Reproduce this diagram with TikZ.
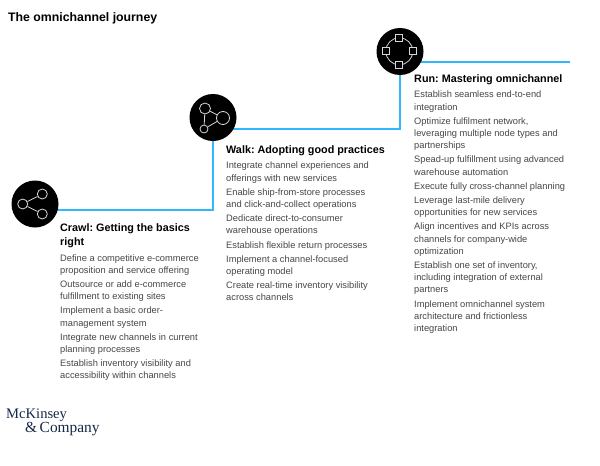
\documentclass[tikz,border=0pt]{standalone}
\usepackage{xcolor}
\usepackage{fontspec}
\setmainfont{Liberation Sans}
\newfontfamily\logofont{Liberation Serif}
\usetikzlibrary{positioning, backgrounds}
\definecolor{journeyblue}{RGB}{48, 184, 255}
\definecolor{bodygray}{RGB}{70, 70, 70}
\definecolor{logonavy}{RGB}{20, 40, 70}
\definecolor{icongray}{RGB}{215, 215, 215}
\frenchspacing
\begin{document}
\begin{tikzpicture}[
    x=1pt, y=-1pt,
    badge/.style={circle, fill=black, minimum size=47pt, inner sep=0pt},
    iconring/.style={circle, draw=icongray, line width=0.8pt, inner sep=0pt, minimum size=#1},
    iconsquare/.style={rectangle, draw=icongray, fill=black, line width=0.8pt, inner sep=0pt, minimum size=7pt},
    iconlink/.style={draw=icongray, line width=0.8pt},
    stepline/.style={draw=journeyblue, line width=1.5pt},
    steptitle/.style={anchor=north west, inner sep=0pt, align=left, font=\fontsize{10.8}{13.6}\selectfont\bfseries, text=black},
    stepbody/.style={anchor=north west, inner sep=0pt, align=left, font=\fontsize{9.3}{12.2}\selectfont, text=bodygray}
]
    \useasboundingbox (0,0) rectangle (600,466);
    \node[anchor=west, inner sep=0pt, font=\fontsize{12.3}{14}\selectfont\bfseries] (heading) at (8,18) {The omnichannel journey};

    % Badges
    \node[badge] (crawl) at (35,204) {};
    \node[badge] (walk) at (213,117.5) {};
    \node[badge] (run) at (400,51.5) {};

    % Blue steps
    \coordinate (crawlcorner) at (213,210);
    \coordinate (walkcorner) at (400,129);
    \coordinate (runend) at (570,62);
    \begin{scope}[on background layer]
        \draw[stepline] (crawl.center |- crawlcorner) -- (crawlcorner) -- (walk);
        \draw[stepline] (walk.center |- walkcorner) -- (walkcorner) -- (run);
        \draw[stepline] (run.center |- runend) -- (runend);
    \end{scope}

    % Icons
    \node[iconring=10pt] (c1) at (22.7,204) {};
    \node[iconring=10pt] (c2) at (42.3,194) {};
    \node[iconring=10pt] (c3) at (42.3,214) {};
    \draw[iconlink] (c1) -- (c2);
    \draw[iconlink] (c1) -- (c3);

    \node[iconring=11pt] (w1) at (205,108.5) {};
    \node[iconring=13pt] (w2) at (223,118) {};
    \node[iconring=8pt] (w3) at (204,129) {};
    \draw[iconlink] (w1) -- (w2);
    \draw[iconlink] (w1) -- (w3);
    \draw[iconlink] (w2) -- (w3);

    \node[iconring=27pt] (r0) at (399.3,51.3) {};
    \node[iconsquare] (r1) at (399,37.5) {};
    \node[iconsquare] (r2) at (385.7,51.3) {};
    \node[iconsquare] (r3) at (412.5,51.3) {};
    \node[iconsquare] (r4) at (399,64.8) {};

    % Crawl
    \node[steptitle] (crawltitle) at (60,223.5) {Crawl: Getting the basics\\right};
    \node[stepbody, below=6.5pt of crawltitle.south west, anchor=north west] (crawlbody) {%
        Define a competitive e-commerce\\proposition and service offering\\[2pt]
        Outsource or add e-commerce\\fulfillment to existing sites\\[2pt]
        Implement a basic order-\\management system\\[2pt]
        Integrate new channels in current\\planning processes\\[2pt]
        Establish inventory visibility and\\accessibility within channels};

    % Walk
    \node[steptitle] (walktitle) at (226,145) {Walk: Adopting good practices};
    \node[stepbody, below=6.5pt of walktitle.south west, anchor=north west] (walkbody) {%
        Integrate channel experiences and\\offerings with new services\\[2pt]
        Enable ship-from-store processes\\and click-and-collect operations\\[2pt]
        Dedicate direct-to-consumer\\warehouse operations\\[2pt]
        Establish flexible return processes\\[2pt]
        Implement a channel-focused\\operating model\\[2pt]
        Create real-time inventory visibility\\across channels};

    % Run
    \node[steptitle] (runtitle) at (414,74) {Run: Mastering omnichannel};
    \node[stepbody, below=6.5pt of runtitle.south west, anchor=north west] (runbody) {%
        Establish seamless end-to-end\\integration\\[2pt]
        Optimize fulfilment network,\\leveraging multiple node types and\\partnerships\\[2pt]
        Spead-up fulfillment using advanced\\warehouse automation\\[2pt]
        Execute fully cross-channel planning\\[2pt]
        Leverage last-mile delivery\\opportunities for new services\\[2pt]
        Align incentives and KPIs across\\channels for company-wide\\optimization\\[2pt]
        Establish one set of inventory,\\including integration of external\\partners\\[2pt]
        Implement omnichannel system\\architecture and frictionless\\integration};

    % Logo
    \node[anchor=west, inner sep=0pt, text=logonavy, font=\logofont\fontsize{14.6}{15}\selectfont] (logotop) at (6,415) {McKinsey};
    \node[anchor=west, inner sep=0pt, text=logonavy, font=\logofont\fontsize{15.4}{15}\selectfont] (logobottom) at (25,429) {\&\,Company};
\end{tikzpicture}
\end{document}
